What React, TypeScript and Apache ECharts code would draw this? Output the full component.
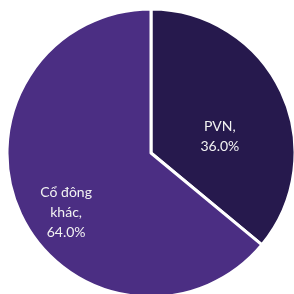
import React, { useEffect, useRef } from "react";
import * as echarts from "echarts";

const names = ["PVN", "Cổ đông khác"];
const labelNames = ["PVN", "Cổ đông\nkhác"];
const values = [36.0, 64.0];
const colors = ["#26194d", "#4b2e83"];
const labelShift = [
  [1, 14],
  [-17, 27],
];

export default function App() {
  const ref = useRef<HTMLDivElement>(null);
  useEffect(() => {
    if (!ref.current) return;
    const chart = echarts.init(ref.current, undefined, { renderer: "svg" });
    chart.setOption({
      animation: false,
      series: [
        {
          type: "pie",
          center: [151, 153],
          radius: [0, 144],
          startAngle: 90,
          clockwise: true,
          data: names.map((n, i) => ({
            name: n,
            value: values[i],
            itemStyle: { color: colors[i] },
          })),
          itemStyle: { borderColor: "#ffffff", borderWidth: 3 },
          label: {
            show: true,
            position: "inside",
            color: "#f2f2f2",
            fontFamily: "Lato, 'Noto Sans', sans-serif",
            fontSize: 14,
            lineHeight: 20,
            align: "center",
            formatter: (p: any) =>
              `${labelNames[p.dataIndex]},\n${p.percent.toFixed(1)}%`,
          },
          labelLayout: (p: any) => ({
            dx: labelShift[p.dataIndex][0],
            dy: labelShift[p.dataIndex][1],
          }),
          emphasis: { disabled: true },
        },
      ],
    });
    return () => chart.dispose();
  }, []);
  return (
    <div
      ref={ref}
      style={{ position: "fixed", left: 0, top: 0, width: 294, height: 294 }}
    />
  );
}
